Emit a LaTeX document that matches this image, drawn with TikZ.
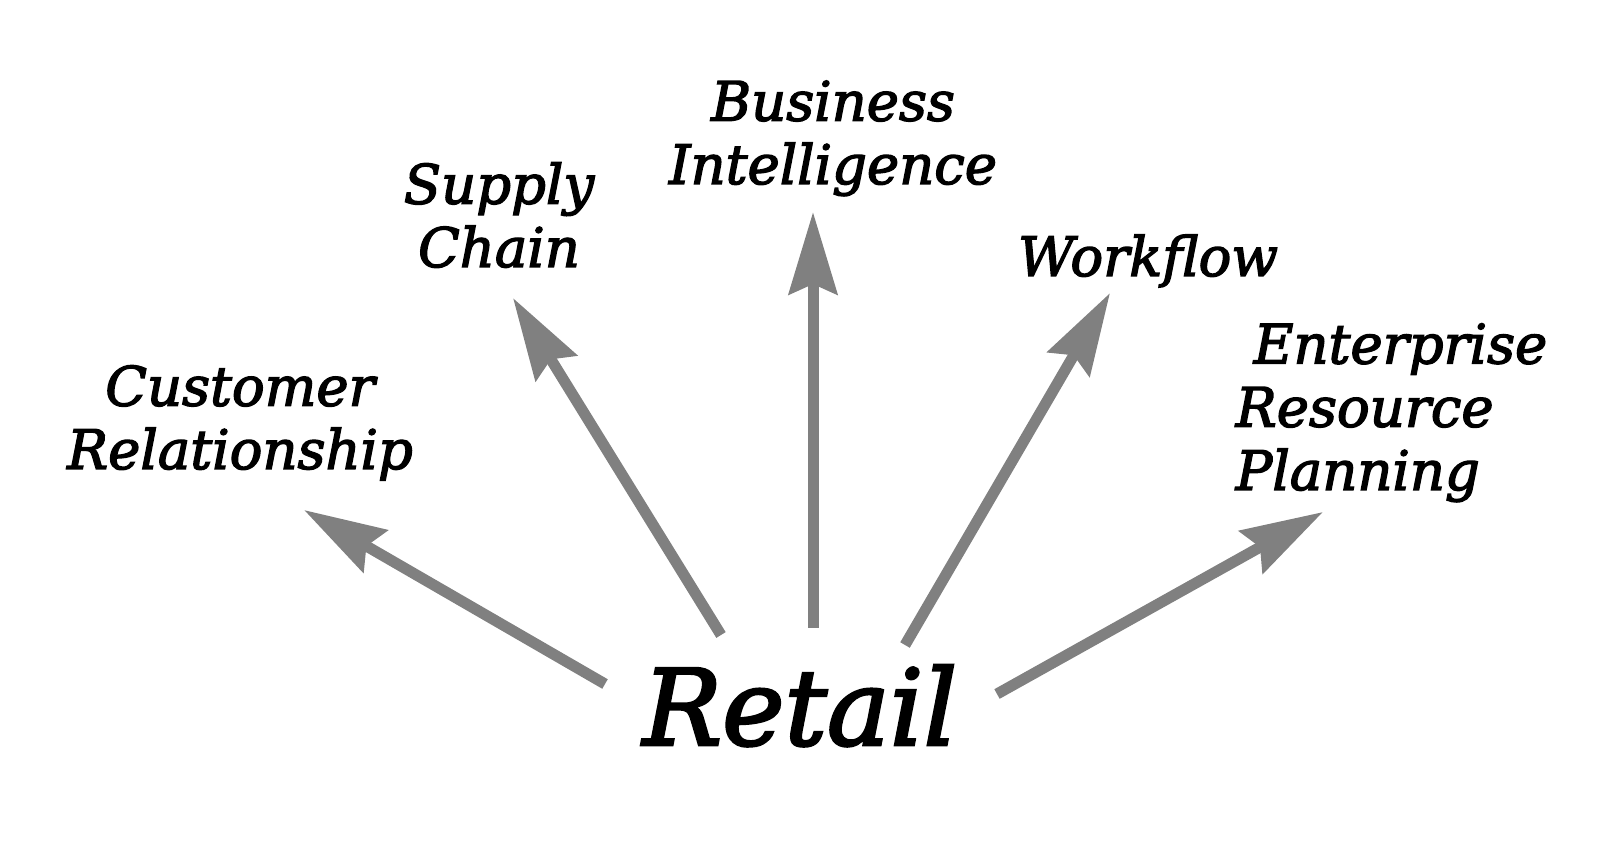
\documentclass[tikz,border=0pt]{standalone}
\usepackage{fontspec}
\setmainfont{DejaVu Serif}[ItalicFeatures={FakeBold=2.5}]
\usetikzlibrary{positioning,arrows.meta}

\begin{document}
\begin{tikzpicture}[
  lbl/.style={font=\fontsize{15.5}{18}\selectfont\itshape, inner sep=0pt, align=center, anchor=base},
  arr/.style={draw=gray, line width=0.11cm, -{Stealth[length=0.82cm,width=0.48cm,inset=0.1cm]}}
  ]
  \useasboundingbox (0,0) rectangle (16,8.46);
  % centre word
  \node[lbl, font=\fontsize{30}{34}\selectfont\itshape] (retail) at (8.00,1.01) {Retail};
  % the five labels (base = last line)
  \node[lbl] (crm) at (2.40,3.77) {Customer\\Relationship};
  \node[lbl] (supply) at (4.99,5.79) {Supply\\Chain};
  \node[lbl] (bi) at (8.33,6.62) {Business\\Intelligence};
  \node[lbl] (flow) at (11.48,5.70) {Workflow};
  \node[lbl, align=left, anchor=base west] (erp) at (12.35,3.56) {\hspace*{0.18cm}Enterprise\\Resource\\Planning};
  % arrow feet and tips
  \coordinate (crmfoot) at (6.05,1.62);    \coordinate (crmtip) at (3.04,3.36);
  \coordinate (supplyfoot) at (7.21,2.11); \coordinate (supplytip) at (5.13,5.48);
  \coordinate (bifoot) at (8.13,2.18);     \coordinate (bitip) at (8.13,6.34);
  \coordinate (flowfoot) at (9.05,2.01);   \coordinate (flowtip) at (11.10,5.53);
  \coordinate (erpfoot) at (9.97,1.52);    \coordinate (erptip) at (13.23,3.34);
  \foreach \p/\q in {crmfoot/crmtip, supplyfoot/supplytip, bifoot/bitip, flowfoot/flowtip, erpfoot/erptip} {
    \draw[arr] (\p) -- (\q);
  }
\end{tikzpicture}
\end{document}
